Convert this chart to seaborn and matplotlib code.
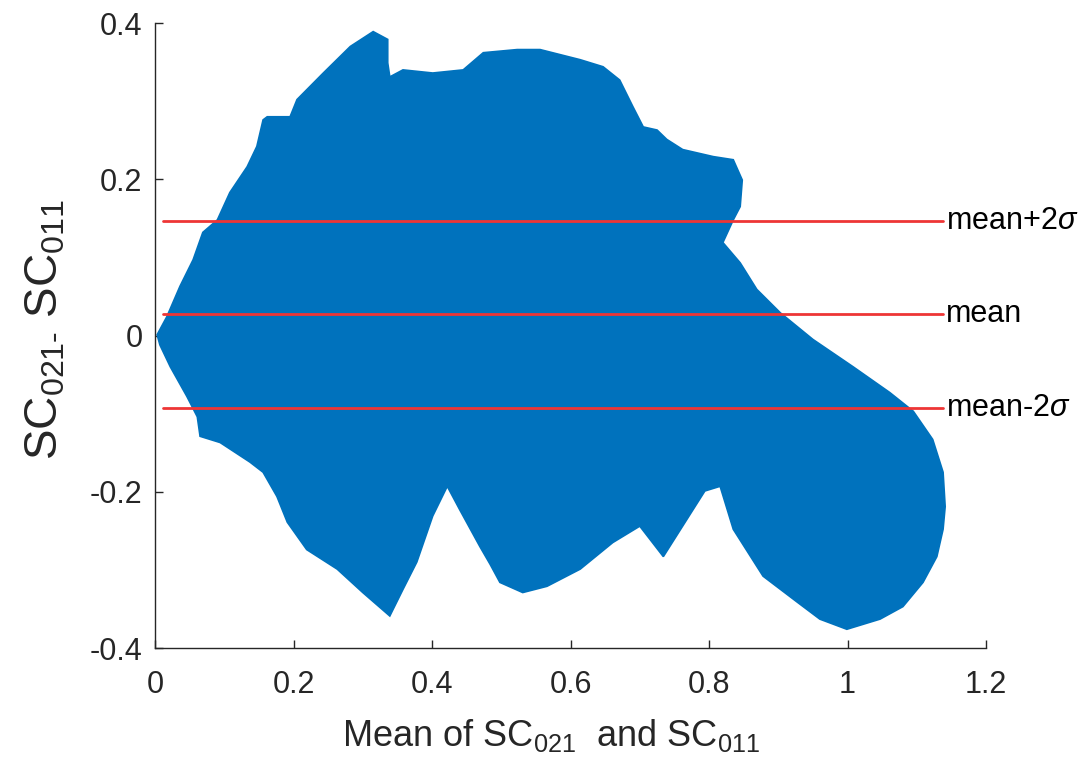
"""Bland-Altman plot of SC021 vs SC011, redrawn from the published figure."""

import matplotlib

matplotlib.use("Agg")
import matplotlib.pyplot as plt
import pandas as pd
import seaborn as sns

# Outline of the point cloud, traced clockwise from the left edge (data units)
CLOUD_X = [
    0.003, 0.017, 0.036, 0.055, 0.069, 0.090, 0.108, 0.133, 0.147, 0.156,
    0.162, 0.195, 0.205, 0.243, 0.282, 0.315, 0.336, 0.336, 0.339, 0.358,
    0.401, 0.445, 0.474, 0.523, 0.556, 0.614, 0.647, 0.671, 0.690, 0.705,
    0.725, 0.739, 0.762, 0.806, 0.835, 0.848, 0.845, 0.835, 0.820, 0.845,
    0.869, 0.903, 0.950, 1.008, 1.061, 1.095, 1.123, 1.138, 1.141, 1.138,
    1.129, 1.109, 1.080, 1.047, 0.999, 0.960, 0.927, 0.878, 0.835, 0.816,
    0.794, 0.734, 0.700, 0.661, 0.614, 0.566, 0.531, 0.498, 0.484, 0.469,
    0.440, 0.422, 0.401, 0.378, 0.358, 0.339, 0.300, 0.263, 0.219, 0.191,
    0.176, 0.156, 0.137, 0.094, 0.065, 0.061, 0.046, 0.022, 0.007,
]
CLOUD_Y = [
    0.001, 0.024, 0.063, 0.097, 0.132, 0.148, 0.183, 0.216, 0.242, 0.276,
    0.280, 0.280, 0.302, 0.336, 0.370, 0.389, 0.379, 0.349, 0.331, 0.340,
    0.336, 0.340, 0.362, 0.366, 0.366, 0.353, 0.344, 0.327, 0.293, 0.267,
    0.263, 0.251, 0.238, 0.229, 0.225, 0.199, 0.165, 0.148, 0.119, 0.093,
    0.059, 0.029, -0.005, -0.040, -0.073, -0.097, -0.133, -0.175, -0.219, -0.248,
    -0.283, -0.316, -0.347, -0.363, -0.376, -0.363, -0.341, -0.308, -0.248, -0.193,
    -0.199, -0.283, -0.244, -0.265, -0.299, -0.321, -0.329, -0.316, -0.293, -0.270,
    -0.223, -0.193, -0.231, -0.290, -0.325, -0.359, -0.329, -0.299, -0.274, -0.239,
    -0.206, -0.175, -0.162, -0.137, -0.129, -0.104, -0.078, -0.040, -0.012,
]

# Limits of agreement
LIMIT_NAMES = ["mean+2$\\mathit{\\sigma}$", "mean", "mean-2$\\mathit{\\sigma}$"]
LIMIT_Y = [0.147, 0.027, -0.093]
LIMIT_X_START = 0.012
LIMIT_X_END = 1.138

X_TICKS = [0, 0.2, 0.4, 0.6, 0.8, 1.0, 1.2]
X_TICK_LABELS = ["0", "0.2", "0.4", "0.6", "0.8", "1", "1.2"]
Y_TICKS = [-0.4, -0.2, 0, 0.2, 0.4]
Y_TICK_LABELS = ["-0.4", "-0.2", "0", "0.2", "0.4"]

BLUE = "#0072BD"
RED = "#ee3535"
INK = "#262626"

sns.set_style("ticks")
plt.rcParams["font.family"] = ["Liberation Sans", "DejaVu Sans"]
plt.rcParams["mathtext.fontset"] = "custom"
plt.rcParams["mathtext.rm"] = "Liberation Sans"
plt.rcParams["mathtext.it"] = "Liberation Sans:italic"
plt.rcParams["mathtext.default"] = "regular"

fig = plt.figure(figsize=(10.82, 7.72), dpi=100)
ax = fig.add_axes([0.1433, 0.1606, 0.7680, 0.8096])

# Point cloud
ax.fill(CLOUD_X, CLOUD_Y, color=BLUE, lw=1.2, zorder=2)

# Limit lines in long form
limits = pd.DataFrame(
    {
        "x": [LIMIT_X_START, LIMIT_X_END] * len(LIMIT_Y),
        "y": [v for v in LIMIT_Y for _ in range(2)],
        "level": [n for n in LIMIT_NAMES for _ in range(2)],
    }
)
sns.lineplot(
    data=limits,
    x="x",
    y="y",
    units="level",
    estimator=None,
    color=RED,
    lw=2.0,
    ax=ax,
    zorder=3,
)
for name, yv in zip(LIMIT_NAMES, LIMIT_Y):
    ax.text(LIMIT_X_END + 0.004, yv, name, fontsize=22, color="black",
            va="center", ha="left", clip_on=False)

ax.set_xlim(0, 1.2)
ax.set_ylim(-0.4, 0.4)
ax.set_xticks(X_TICKS)
ax.set_xticklabels(X_TICK_LABELS)
ax.set_yticks(Y_TICKS)
ax.set_yticklabels(Y_TICK_LABELS)
ax.tick_params(axis="both", direction="in", length=6, width=1, colors=INK,
               labelsize=22, labelcolor=INK)
ax.tick_params(axis="x", pad=16)
ax.tick_params(axis="y", pad=9)
for side in ["top", "right"]:
    ax.spines[side].set_visible(False)
for side in ["left", "bottom"]:
    ax.spines[side].set_color(INK)
    ax.spines[side].set_linewidth(1)

ax.set_xlabel("Mean of SC$_{021}$  and SC$_{011}$", fontsize=26, color=INK)
ax.set_ylabel("SC$_{021\u2010}$ SC$_{011}$", fontsize=33, color=INK)
ax.xaxis.set_label_coords(0.477, -0.111)
ax.yaxis.set_label_coords(-0.105, 0.509)

fig.savefig("out.png", dpi=100)
